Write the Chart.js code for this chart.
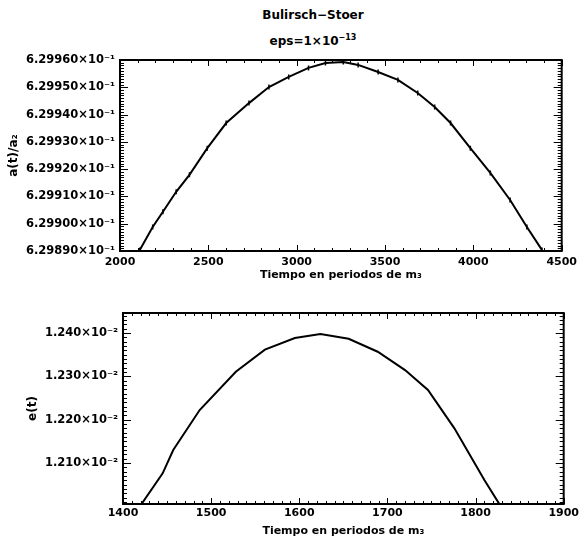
<!DOCTYPE html>
<html>
<head>
<meta charset="utf-8">
<script src="https://cdn.jsdelivr.net/npm/chart.js@4.4.0/dist/chart.umd.min.js"></script>
<style>
  html, body { margin: 0; padding: 0; background: #fff; overflow: hidden; }
  body { width: 582px; height: 537px; position: relative; font-family: "DejaVu Sans", sans-serif; font-weight: bold; color: #000; }
  .title { position: absolute; left: 213px; width: 200px; text-align: center; font-size: 12px; line-height: 14px; }
  .title sup { font-size: 8px; vertical-align: 5px; line-height: 0; }
  #topCanvas { position: absolute; left: 0; top: 0; }
  #botCanvas { position: absolute; left: 0; top: 290px; }
</style>
</head>
<body>
<div class="title" style="top: 8px;">Bulirsch&minus;Stoer</div>
<div class="title" style="top: 34px;">eps=1&times;10<sup>&minus;13</sup></div>
<canvas id="topCanvas" width="582" height="290"></canvas>
<canvas id="botCanvas" width="582" height="247"></canvas>
<script>
/* =========================
   DATA
========================= */

// upper panel: semi-major axis a(t)/a2 vs time
const timeA = [2112, 2185, 2243, 2318, 2393, 2494, 2601, 2730, 2843, 2955, 3067, 3163,
  3264, 3348, 3461, 3573, 3685, 3781, 3871, 3983, 4096, 4208, 4303, 4388];
const semiA = [0.6298904, 0.6298988, 0.6299044, 0.6299117, 0.6299179, 0.6299277, 0.6299369,
  0.6299442, 0.6299501, 0.6299538, 0.6299571, 0.6299589, 0.6299593, 0.6299582, 0.6299556,
  0.6299527, 0.6299479, 0.6299428, 0.6299369, 0.6299277, 0.6299186, 0.6299087, 0.6298988,
  0.6298904];
const xTicksA = [2000, 2500, 3000, 3500, 4000, 4500];
const yTicksA = [0.62989, 0.6299, 0.62991, 0.62992, 0.62993, 0.62994, 0.62995, 0.62996];

// lower panel: eccentricity e(t) vs time
const timeE = [1421, 1445, 1457, 1487, 1528, 1561, 1595, 1624, 1656, 1689, 1720, 1746, 1776, 1810, 1827];
const eccE = [0.0120051, 0.012076, 0.0121298, 0.0122222, 0.0123106, 0.0123617, 0.0123885,
  0.0123977, 0.0123866, 0.0123568, 0.0123145, 0.0122684, 0.0121799, 0.0120605, 0.0120051];
const xTicksE = [1400, 1500, 1600, 1700, 1800, 1900];
const yTicksE = [0.0121, 0.0122, 0.0123, 0.0124];

/* =========================
   FRAME + INWARD TICKS
========================= */

const frameTicks = {
  id: "frameTicks",
  afterDatasetsDraw(chart, args, o) {
    const { ctx, chartArea: a } = chart;
    ctx.save();
    ctx.strokeStyle = "#000";
    ctx.lineWidth = 1;
    const marks = (scale, step, len) => {
      const first = Math.ceil(scale.min / step - 1e-6);
      const last = Math.floor(scale.max / step + 1e-6);
      ctx.beginPath();
      for (let k = first; k <= last; k++) {
        const p = Math.round(scale.getPixelForValue(k * step)) + 0.5;
        if (scale.isHorizontal()) {
          ctx.moveTo(p, a.bottom); ctx.lineTo(p, a.bottom - len);
          ctx.moveTo(p, a.top); ctx.lineTo(p, a.top + len);
        } else {
          ctx.moveTo(a.left, p); ctx.lineTo(a.left + len, p);
          ctx.moveTo(a.right, p); ctx.lineTo(a.right - len, p);
        }
      }
      ctx.stroke();
    };
    marks(chart.scales.x, o.xMinor, 3);
    marks(chart.scales.x, o.xMajor, 6);
    marks(chart.scales.y, o.yMinor, 4);
    marks(chart.scales.y, o.yMajor, 8);
    ctx.lineWidth = 2;
    ctx.strokeRect(a.left, a.top, a.right - a.left, a.bottom - a.top);
    ctx.restore();
  },
};

/* =========================
   PANEL BUILDER
========================= */

function makePanel(id, p) {
  return new Chart(document.getElementById(id), {
    type: "line",
    data: {
      datasets: [
        {
          data: p.x.map((v, i) => ({ x: v, y: p.y[i] })),
          borderColor: "#000",
          borderWidth: 2,
          tension: 0,
          pointStyle: "line",
          pointRotation: 90,
          pointRadius: p.spike,
          pointBorderWidth: 1.5,
          pointBorderColor: "#000",
        },
      ],
    },
    options: {
      responsive: false,
      animation: false,
      devicePixelRatio: 1,
      layout: { padding: { top: p.padTop, right: p.padRight, left: 0, bottom: 0 } },
      plugins: {
        legend: { display: false },
        tooltip: { enabled: false },
        frameTicks: p.ticks,
      },
      scales: {
        x: {
          type: "linear",
          min: p.xMin,
          max: p.xMax,
          afterBuildTicks: (s) => { s.ticks = p.xTicks.map((v) => ({ value: v })); },
          afterFit: (s) => { s.height = p.xAxisH; },
          grid: { display: false, drawTicks: false },
          border: { display: false },
          ticks: {
            color: "#000",
            padding: p.xTickPad,
            maxRotation: 0,
            autoSkip: false,
            font: { family: "DejaVu Sans", size: 11, weight: "bold" },
            callback: (v) => String(v),
          },
          title: {
            display: true,
            text: "Tiempo en periodos de m\u2083",
            color: "#000",
            font: { family: "DejaVu Sans", size: 11, weight: "bold", lineHeight: 1 },
            padding: { top: 0, bottom: p.xTitlePad },
          },
        },
        y: {
          type: "linear",
          min: p.yMin,
          max: p.yMax,
          afterBuildTicks: (s) => { s.ticks = p.yTicks.map((v) => ({ value: v })); },
          afterFit: (s) => { s.width = p.yAxisW; },
          grid: { display: false, drawTicks: false },
          border: { display: false },
          ticks: {
            color: "#000",
            padding: 5,
            autoSkip: false,
            font: { family: "DejaVu Sans", size: 11.5, weight: "bold" },
            callback: p.yFmt,
          },
          title: {
            display: true,
            text: p.yTitle,
            color: "#000",
            font: { family: "DejaVu Sans", size: 12, weight: "bold", lineHeight: 1 },
            padding: { top: p.yTitlePad, bottom: 0 },
          },
        },
      },
    },
    plugins: [frameTicks],
  });
}

/* =========================
   UPPER PANEL
========================= */

makePanel("topCanvas", {
  x: timeA, y: semiA, spike: 2.5,
  xMin: 2000, xMax: 4500, xTicks: xTicksA,
  yMin: 0.62989, yMax: 0.62996, yTicks: yTicksA,
  yFmt: (v) => (v * 10).toFixed(5) + "\u00d710\u207b\u00b9",
  yTitle: "a(t)/a\u2082",
  padTop: 60, padRight: 17, xAxisH: 39, yAxisW: 120,
  xTickPad: 5, xTitlePad: 9, yTitlePad: 8,
  ticks: { xMajor: 500, xMinor: 100, yMajor: 0.00001, yMinor: 0.000001 },
});

/* =========================
   LOWER PANEL
========================= */

makePanel("botCanvas", {
  x: timeE, y: eccE, spike: 0,
  xMin: 1400, xMax: 1900, xTicks: xTicksE,
  yMin: 0.0120053, yMax: 0.0124462, yTicks: yTicksE,
  yFmt: (v) => (v * 100).toFixed(3) + "\u00d710\u207b\u00b2",
  yTitle: "e(t)",
  padTop: 23, padRight: 15, xAxisH: 33, yAxisW: 123,
  xTickPad: 3, xTitlePad: 0, yTitlePad: 27,
  ticks: { xMajor: 100, xMinor: 10, yMajor: 0.0001, yMinor: 0.00001 },
});
</script>
</body>
</html>
